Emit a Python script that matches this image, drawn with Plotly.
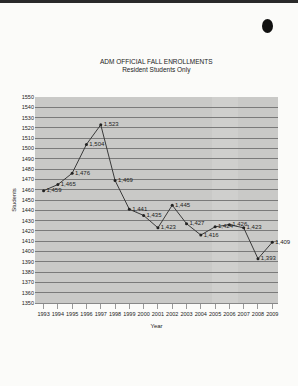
import plotly.graph_objects as go

years = [str(y) for y in range(1993, 2010)]
students = [1459, 1465, 1476, 1504, 1523, 1469, 1441, 1435, 1423, 1445,
            1427, 1416, 1424, 1426, 1423, 1393, 1409]
labels = [f"{v:,}" for v in students]
y_ticks = list(range(1350, 1551, 10))

font_fam = "Liberation Sans Narrow, Arial Narrow, Liberation Sans, sans-serif"

T, B, L, R = 97, 303, 35, 278
H = B - T
W = R - L

def py(p):
    return (B - p) / H

def px(p):
    return (p - L) / W

fig = go.Figure()
fig.add_trace(go.Scatter(
    x=years, y=students, mode="lines+markers+text",
    text=labels, textposition="middle right",
    textfont=dict(size=6, color="#222", family=font_fam),
    line=dict(color="#3a3a3a", width=1),
    marker=dict(size=3, color="#222"),
    cliponaxis=False, showlegend=False,
))

fig.update_layout(
    width=298, height=386,
    margin=dict(l=L, r=298 - R, t=T, b=386 - B),
    paper_bgcolor="#fbfbf9",
    plot_bgcolor="#c9c9c7",
    font=dict(family=font_fam, size=6, color="#222"),
    annotations=[
        dict(text="ADM OFFICIAL FALL ENROLLMENTS<br>Resident Students Only",
             x=0.5, xref="paper", y=py(66), yref="paper", yanchor="middle",
             showarrow=False, font=dict(size=6.5, color="#222", family=font_fam)),
    ],
    xaxis=dict(
        type="category", range=[-0.6, 16.4],
        showgrid=False, ticks="outside", ticklen=5, tickcolor="#999",
        tickangle=0,
        tickfont=dict(size=5.5), title=dict(text="Year", font=dict(size=6), standoff=8),
        showline=True, linecolor="#888", linewidth=1,
    ),
    yaxis=dict(
        range=[1350, 1550], tickvals=y_ticks,
        showgrid=True, gridcolor="#7a7a7a", gridwidth=1,
        tickfont=dict(size=5.5),
        title=dict(text="Students", font=dict(size=6), standoff=4),
        zeroline=False,
    ),
)

fig.add_shape(type="rect", xref="paper", yref="paper", x0=px(212), x1=px(238), y0=0, y1=1,
              fillcolor="rgba(255,255,255,0.12)", line=dict(width=0), layer="below")
# scan artefacts: top dark band, punch dot
fig.add_shape(type="rect", xref="paper", yref="paper",
              x0=px(0), x1=px(298), y0=py(0), y1=py(3),
              fillcolor="#2a2a2a", line=dict(width=0))
fig.add_shape(type="circle", xref="paper", yref="paper",
              x0=px(262), x1=px(273), y0=py(19), y1=py(33),
              fillcolor="#111", line=dict(width=0))

fig.write_html("out.html")
